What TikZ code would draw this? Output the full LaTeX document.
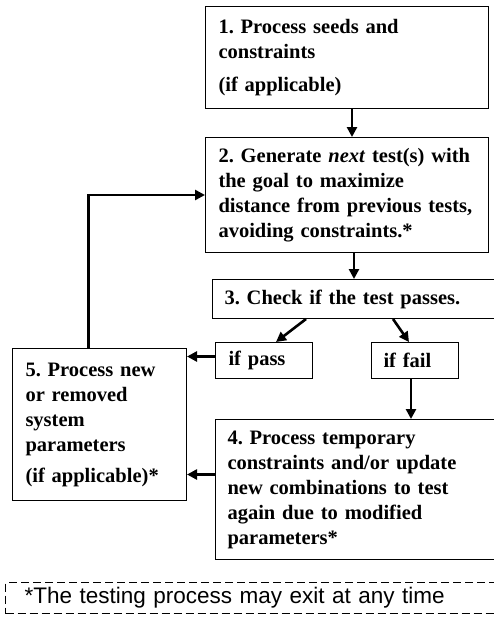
\documentclass[tikz,border=0pt]{standalone}
\usepackage{fontspec}
\setmainfont{Liberation Serif}
\setsansfont{Liberation Sans}
\usetikzlibrary{arrows.meta, positioning}
\frenchspacing

\begin{document}
\begin{tikzpicture}[
        x=1pt, y=-1pt,
        stepbox/.style={
            draw,
            line width=1pt,
            anchor=north west,
            align=left,
            inner xsep=13pt,
            inner ysep=0pt,
            font=\bfseries\fontsize{20.5}{25}\selectfont
        },
        arrow/.style={-{Triangle[length=10pt,width=10pt]}, line width=2.6pt}
    ]
        \useasboundingbox (0,0) rectangle (493,621);

        \node[stepbox, text width=257pt, minimum width=283pt, minimum height=102pt] (seeds) at (205,6)
            {1. Process seeds and\\constraints\\[8pt](if applicable)};
        \node[stepbox, text width=257pt, minimum width=283pt, minimum height=115pt] (gen) at (205,137)
            {2. Generate \textit{next} test(s) with\\the goal to maximize\\distance from previous tests,\\avoiding constraints.*};
        \node[stepbox, inner xsep=12pt, text width=269pt, minimum width=293pt, minimum height=39pt] (check) at (212,279)
            {3. Check if the test passes.};
        \node[stepbox, text width=71pt, minimum width=97pt, minimum height=36pt] (pass) at (215,342)
            {if pass};
        \node[stepbox, inner xsep=12pt, text width=63pt, minimum width=87pt, minimum height=36pt] (fail) at (371,342)
            {if fail};
        \node[stepbox, text width=148pt, minimum width=174pt, minimum height=152pt] (newpar) at (12,348)
            {5. Process new\\or removed\\system\\parameters\\[6pt](if applicable)*};
        \node[stepbox, inner xsep=12pt, text width=266pt, minimum width=290pt, minimum height=140pt] (temp) at (215,419)
            {4. Process temporary\\constraints and/or update\\new combinations to test\\again due to modified\\parameters*};

        \node[draw, dashed, dash pattern=on 8pt off 4pt, line width=1.2pt, anchor=north west,
            minimum width=500pt, minimum height=31pt, inner xsep=19pt, text width=462pt, align=left,
            font=\sffamily\fontsize{22.5}{25}\selectfont] (note) at (5,582)
            {*The testing process may exit at any time};

        \draw[arrow] ([xshift=5pt]seeds.south) -- ([xshift=5pt]seeds.south |- gen.north);
        \draw[arrow] ([xshift=7pt]gen.south) -- ([xshift=7pt]gen.south |- check.north);
        \draw[arrow] ([xshift=-53pt]check.south) -- ([xshift=12pt]pass.north);
        \draw[arrow] ([xshift=34pt]check.south) -- ([xshift=-6pt]fail.north);
        \draw[arrow] ([xshift=-4pt]fail.south) -- ([xshift=-4pt]fail.south |- temp.north);
        \draw[arrow] ([yshift=4pt]pass.west) coordinate (passout) -- (passout -| newpar.east);
        \draw[arrow] ([yshift=15pt]temp.west) coordinate (tempout) -- (tempout -| newpar.east);
        \draw[arrow] ([xshift=-11pt]newpar.north) |- (gen.west);
    \end{tikzpicture}
\end{document}
